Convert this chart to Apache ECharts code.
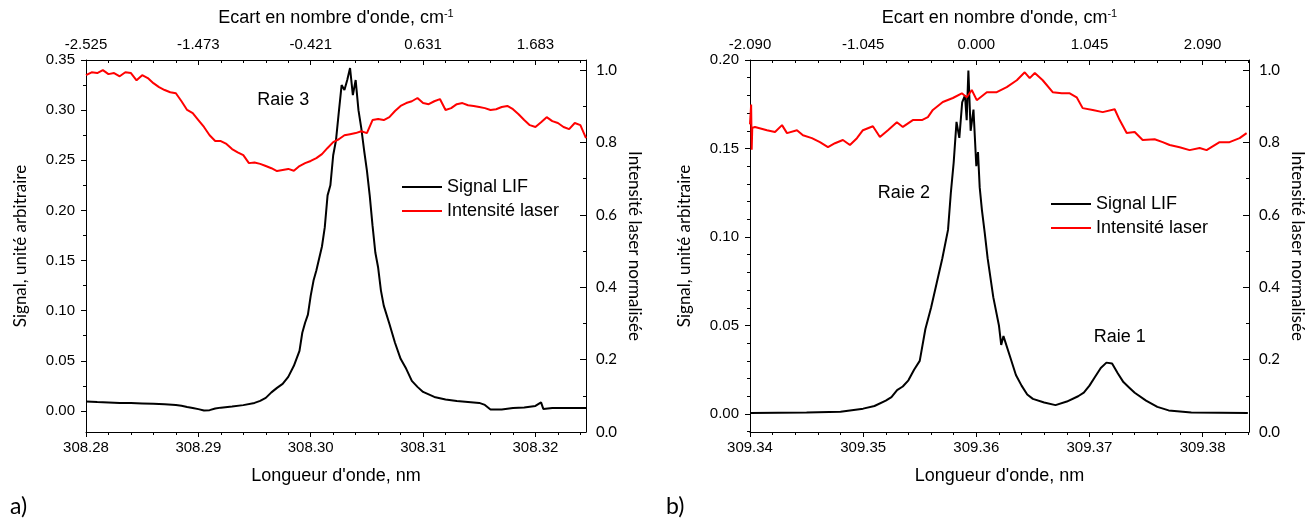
<!DOCTYPE html>
<html><head><meta charset="utf-8">
<script src="https://cdn.jsdelivr.net/npm/echarts@6/dist/echarts.min.js"></script>
<style>html,body{margin:0;padding:0;background:#fff}#c{width:1310px;height:525px}</style>
</head><body><div id="c"></div>
<script>
// ---------- Panel a) : Raie 3 ----------
const lambdaSignalA = [308.2800,308.2810,308.2820,308.2830,308.2840,308.2850,308.2860,308.2870,308.2880,308.2885,308.2890,308.2895,308.2900,308.2905,308.2910,308.2915,308.2920,308.2930,308.2940,308.2950,308.2955,308.2960,308.2965,308.2970,308.2975,308.2980,308.2985,308.2990,308.29925,308.2995,308.29975,308.3000,308.30025,308.3005,308.30075,308.3010,308.30125,308.3015,308.30175,308.3020,308.30225,308.3025,308.30275,308.3030,308.30325,308.3035,308.30375,308.3040,308.30425,308.3045,308.30475,308.3050,308.30525,308.3055,308.30575,308.3060,308.30625,308.3065,308.3070,308.3075,308.3080,308.3085,308.3090,308.3095,308.3100,308.3110,308.3120,308.3130,308.3140,308.3150,308.3155,308.3160,308.3170,308.3180,308.3190,308.3200,308.3205,308.3207,308.3215,308.3230,308.3245];
const signalA = [0.0095,0.0088,0.0085,0.0080,0.0078,0.0075,0.0072,0.0066,0.0060,0.0052,0.0040,0.0030,0.0018,0.0005,0.0008,0.0025,0.0033,0.0045,0.0058,0.0080,0.0100,0.0130,0.0185,0.0230,0.0270,0.0340,0.0450,0.0600,0.0780,0.0880,0.0960,0.1150,0.1300,0.1400,0.1520,0.1640,0.1830,0.2150,0.2250,0.2550,0.2700,0.2980,0.3250,0.3200,0.3300,0.3420,0.3150,0.3300,0.3000,0.2820,0.2600,0.2400,0.2150,0.1850,0.1580,0.1430,0.1200,0.1050,0.0870,0.0680,0.0520,0.0420,0.0300,0.0240,0.0190,0.0140,0.0115,0.0100,0.0090,0.0080,0.0060,0.0015,0.0015,0.0030,0.0035,0.0050,0.0085,0.0020,0.0030,0.0030,0.0030];
const lambdaLaserA = [308.2800,308.2805,308.2810,308.2815,308.2820,308.2825,308.2830,308.2835,308.2840,308.2845,308.2850,308.2855,308.2860,308.2865,308.2870,308.2875,308.2880,308.2885,308.2890,308.2895,
308.2900,308.2905,308.2910,308.2915,308.2920,308.2925,308.2930,308.2935,308.2940,308.2945,308.2950,308.2955,308.2960,308.2965,308.2970,308.2975,308.2980,308.2985,308.2990,308.2995,
308.3000,308.3005,308.3010,308.3015,308.3020,308.3025,308.3030,308.3035,308.3040,308.3045,308.3050,308.3055,308.3060,308.3065,308.3070,308.3075,308.3080,308.3085,308.3090,308.3095,
308.3100,308.3105,308.3110,308.3115,308.3120,308.3125,308.3130,308.3135,308.3140,308.3145,308.3150,308.3155,308.3160,308.3165,308.3170,308.3175,308.3180,308.3185,308.3190,308.3195,
308.3200,308.3205,308.3210,308.3215,308.3220,308.3225,308.3230,308.3235,308.3240,308.3245];
const laserA = [0.986,0.994,0.992,1.000,0.989,0.992,0.983,0.994,0.992,0.972,0.986,0.978,0.964,0.953,0.945,0.939,0.936,0.914,0.890,0.881,
0.862,0.843,0.820,0.804,0.804,0.796,0.782,0.773,0.765,0.743,0.745,0.741,0.735,0.729,0.721,0.724,0.727,0.722,0.735,0.743,
0.749,0.757,0.768,0.785,0.801,0.809,0.820,0.823,0.826,0.831,0.826,0.862,0.865,0.862,0.870,0.887,0.901,0.909,0.914,0.923,
0.909,0.906,0.914,0.920,0.890,0.895,0.906,0.909,0.903,0.901,0.898,0.895,0.890,0.892,0.898,0.901,0.892,0.878,0.862,0.848,
0.843,0.856,0.870,0.859,0.854,0.843,0.837,0.854,0.848,0.812];
const bottomTicksA = [308.28,308.29,308.30,308.31,308.32];
const topTickLabelsA = ['-2.525','-1.473','-0.421','0.631','1.683'];
const signalTicksA = [0.00,0.05,0.10,0.15,0.20,0.25,0.30,0.35];

// ---------- Panel b) : Raie 2 / Raie 1 ----------
const lambdaSignalB = [309.3400,309.3450,309.3480,309.3500,309.3510,309.3520,309.3525,309.3530,309.3535,309.3540,309.3545,309.3550,309.3555,309.3560,309.3565,309.3570,309.3575,309.35775,309.3580,309.35825,309.3585,309.35875,309.3590,309.35915,309.3593,309.3595,309.35975,309.3600,309.36015,309.3603,309.3605,309.36075,309.3610,309.3615,309.3620,309.3622,309.3624,309.3630,309.3635,309.3640,309.3645,309.3650,309.3660,309.3670,309.3680,309.3690,309.3695,309.3700,309.3705,309.3710,309.3715,309.3720,309.3725,309.3730,309.3735,309.3740,309.3750,309.3760,309.3770,309.3790,309.3840];
const signalB = [0.0006,0.0008,0.0013,0.0030,0.0045,0.0075,0.0095,0.0135,0.0155,0.0190,0.0250,0.0300,0.0480,0.0600,0.0740,0.0880,0.1040,0.1250,0.1420,0.1650,0.1560,0.1760,0.1800,0.1660,0.1940,0.1600,0.1720,0.1400,0.1480,0.1280,0.1150,0.1020,0.0880,0.0660,0.0500,0.0390,0.0440,0.0320,0.0220,0.0160,0.0110,0.0085,0.0065,0.0050,0.0070,0.0100,0.0120,0.0160,0.0210,0.0260,0.0290,0.0285,0.0230,0.0180,0.0150,0.0120,0.0075,0.0040,0.0020,0.0008,0.0006];
const lambdaLaserB = [309.3400,309.3401,309.34015,309.3402,309.34044,309.3415,309.34221,309.34283,309.34327,309.34415,309.34468,309.34547,309.34618,309.34689,309.34751,309.34821,309.34883,309.34945,309.34998,309.35086,309.35148,309.35219,309.35298,309.35351,309.35439,309.35519,309.35572,309.35616,309.35704,309.35793,309.35872,309.35916,309.3596,309.36004,309.36093,309.36181,309.36269,309.36358,309.36428,309.36472,309.36517,309.36587,309.36675,309.36755,309.36826,309.36887,309.3694,309.37029,309.37117,309.37223,309.37267,309.37329,309.374,309.3747,309.37576,309.37647,309.37709,309.37797,309.37885,309.37974,309.38035,309.3815,309.38238,309.38327,309.38389];
const laserB = [0.850,0.905,0.780,0.840,0.843,0.834,0.829,0.848,0.826,0.834,0.820,0.812,0.801,0.787,0.798,0.807,0.793,0.812,0.834,0.845,0.815,0.834,0.856,0.843,0.862,0.862,0.870,0.890,0.912,0.923,0.936,0.925,0.945,0.917,0.939,0.939,0.953,0.972,0.994,0.978,0.992,0.972,0.939,0.936,0.936,0.925,0.895,0.890,0.884,0.892,0.862,0.826,0.829,0.807,0.809,0.801,0.793,0.787,0.779,0.785,0.779,0.801,0.801,0.812,0.826];
const bottomTicksB = [309.34,309.35,309.36,309.37,309.38];
const topTickLabelsB = ['-2.090','-1.045','0.000','1.045','2.090'];
const signalTicksB = [0.00,0.05,0.10,0.15,0.20];

const laserTicks = [0.0,0.2,0.4,0.6,0.8,1.0];
const laserMinorTicks = [0.1,0.3,0.5,0.7,0.9];

const seriesNames = ['Signal LIF','Intensité laser'];
const lineLabels = {a:['Raie 3'], b:['Raie 2','Raie 1']};

// ---------- build ----------
const ARIAL = "'Liberation Sans', Arial, sans-serif";
const CAL = "Lato, 'Open Sans', sans-serif";
const BLACK = '#000';
const zip = (xs, ys) => xs.slice(0, Math.min(xs.length, ys.length)).map((x, i) => [x, ys[i]]);
const minorBetween = (majors, step, lo, hi) => {
  const out = [];
  const n = Math.round((hi - lo) / step);
  const start = Math.ceil(lo / step) * step;
  for (let k = 0; k <= n + 1; k++) {
    const v = +(start + k * step).toFixed(6);
    if (v <= lo + 1e-9 || v >= hi - 1e-9) continue;
    if (majors.some(m => Math.abs(m - v) < step / 10)) continue;
    out.push(v);
  }
  return out;
};
const lineSt = {color: BLACK, width: 1};

function xAxesFor(g, min, max, majors, topLabels) {
  const minors = minorBetween(majors, 0.002, min, max);
  const labelStyle = {color: BLACK, fontSize: 15, fontFamily: ARIAL};
  return [
    {gridIndex: g, type: 'value', position: 'bottom', min, max,
     axisLine: {show: true, onZero: false, lineStyle: lineSt},
     axisTick: {show: true, inside: false, length: 5, customValues: majors, lineStyle: lineSt},
     axisLabel: Object.assign({show: true, customValues: majors, margin: 8, formatter: v => v.toFixed(2)}, labelStyle),
     splitLine: {show: false},
     name: "Longueur d'onde, nm", nameLocation: 'middle', nameGap: 35,
     nameTextStyle: {color: BLACK, fontSize: 18, fontFamily: ARIAL}},
    {gridIndex: g, type: 'value', position: 'bottom', min, max,
     axisLine: {show: false, onZero: false},
     axisTick: {show: true, inside: false, length: 3, customValues: minors, lineStyle: lineSt},
     axisLabel: {show: false}, splitLine: {show: false}},
    {gridIndex: g, type: 'value', position: 'top', min, max,
     axisLine: {show: true, onZero: false, lineStyle: lineSt},
     axisTick: {show: true, inside: true, length: 5, customValues: majors, lineStyle: lineSt},
     axisLabel: Object.assign({show: true, customValues: majors, margin: 8, formatter: v => {
        const i = majors.findIndex(m => Math.abs(m - v) < 1e-7); return i >= 0 ? topLabels[i] : ''; }}, labelStyle),
     splitLine: {show: false},
     name: "{n|Ecart en nombre d'onde, cm}{s|-1}", nameLocation: 'middle', nameGap: 32,
     nameTextStyle: {rich: {n: {color: BLACK, fontSize: 18, fontFamily: ARIAL, lineHeight: 20},
                            s: {color: BLACK, fontSize: 11, fontFamily: ARIAL, verticalAlign: 'top', lineHeight: 11}}}},
    {gridIndex: g, type: 'value', position: 'top', min, max,
     axisLine: {show: false, onZero: false},
     axisTick: {show: true, inside: true, length: 3, customValues: minors, lineStyle: lineSt},
     axisLabel: {show: false}, splitLine: {show: false}}
  ];
}
function yAxesFor(g, min, max, majors, minorStep) {
  const minors = minorBetween(majors, minorStep, min, max);
  return [
    {gridIndex: g, type: 'value', position: 'left', min, max,
     axisLine: {show: true, onZero: false, lineStyle: lineSt},
     axisTick: {show: true, inside: false, length: 5, customValues: majors, lineStyle: lineSt},
     axisLabel: {show: true, customValues: majors, margin: 11, formatter: v => v.toFixed(2), color: BLACK, fontSize: 15, fontFamily: ARIAL},
     splitLine: {show: false},
     name: 'Signal, unité arbitraire', nameLocation: 'middle', nameGap: 57,
     nameTextStyle: {color: BLACK, fontSize: 17, fontFamily: CAL}},
    {gridIndex: g, type: 'value', position: 'left', min, max,
     axisLine: {show: false, onZero: false},
     axisTick: {show: true, inside: false, length: 3, customValues: minors, lineStyle: lineSt},
     axisLabel: {show: false}, splitLine: {show: false}},
    {gridIndex: g, type: 'value', position: 'right', min: 0, max: 1.028,
     axisLine: {show: true, onZero: false, lineStyle: lineSt},
     axisTick: {show: true, inside: true, length: 6, customValues: laserTicks, lineStyle: lineSt},
     axisLabel: {show: true, customValues: laserTicks, margin: 10, formatter: v => v.toFixed(1), color: BLACK, fontSize: 15, fontFamily: CAL},
     splitLine: {show: false},
     name: 'Intensité laser normalisée', nameLocation: 'middle', nameGap: 40, nameRotate: -90,
     nameTextStyle: {color: BLACK, fontSize: 17, fontFamily: CAL}},
    {gridIndex: g, type: 'value', position: 'right', min: 0, max: 1.028,
     axisLine: {show: false, onZero: false},
     axisTick: {show: true, inside: true, length: 3, customValues: laserMinorTicks, lineStyle: lineSt},
     axisLabel: {show: false}, splitLine: {show: false}}
  ];
}

const xAxis = [].concat(
  xAxesFor(0, 308.28, 308.3245, bottomTicksA, topTickLabelsA),
  xAxesFor(1, 309.34, 309.3841, bottomTicksB, topTickLabelsB));
const yAxis = [].concat(
  yAxesFor(0, -0.021, 0.35, signalTicksA, 0.025),
  yAxesFor(1, -0.0102, 0.20, signalTicksB, 0.01));

function mp(items) {
  return {symbol: 'circle', symbolSize: 1, silent: true, animation: false,
    itemStyle: {color: 'rgba(0,0,0,0)'},
    label: {show: true, position: 'inside', formatter: p => p.name, color: BLACK, fontSize: 18, fontFamily: ARIAL},
    data: items};
}
function lineSeries(name, xi, yi, data, color, markPoint) {
  const s = {name, type: 'line', xAxisIndex: xi, yAxisIndex: yi, data, showSymbol: false, symbol: 'none',
    animation: false, silent: true, color,
    lineStyle: {color, width: 2}, itemStyle: {color}};
  if (markPoint) s.markPoint = markPoint;
  return s;
}

const series = [
  lineSeries(seriesNames[0], 0, 0, zip(lambdaSignalA, signalA), '#000000',
    mp([{name: lineLabels.a[0], coord: [308.29755, 0.310]}])),
  lineSeries(seriesNames[1], 0, 2, zip(lambdaLaserA, laserA), '#ff0000'),
  lineSeries(seriesNames[0], 4, 4, zip(lambdaSignalB, signalB), '#000000',
    mp([{name: lineLabels.b[0], coord: [309.3536, 0.1249]}, {name: lineLabels.b[1], coord: [309.37267, 0.0435]}])),
  lineSeries(seriesNames[1], 4, 6, zip(lambdaLaserB, laserB), '#ff0000')
];

const legendBase = {orient: 'vertical', data: seriesNames, icon: 'rect', itemWidth: 40, itemHeight: 2,
  itemGap: 4, selectedMode: false, textStyle: {color: BLACK, fontSize: 18, fontFamily: ARIAL, lineHeight: 20}};

const option = {
  backgroundColor: '#fff',
  animation: false,
  grid: [
    {left: 86, top: 60, width: 500, height: 372, containLabel: false},
    {left: 750, top: 60, width: 499, height: 372, containLabel: false}
  ],
  xAxis, yAxis, series,
  legend: [
    Object.assign({left: 397, top: 172}, legendBase),
    Object.assign({left: 1046, top: 189}, legendBase)
  ],
  graphic: [
    {type: 'text', left: 10, top: 495, style: {text: 'a)', fill: BLACK, font: '23px ' + CAL}},
    {type: 'text', left: 666, top: 495, style: {text: 'b)', fill: BLACK, font: '23px ' + CAL}}
  ]
};
const chart = echarts.init(document.getElementById('c'), null, {renderer: 'canvas'});
chart.setOption(option);
</script></body></html>
